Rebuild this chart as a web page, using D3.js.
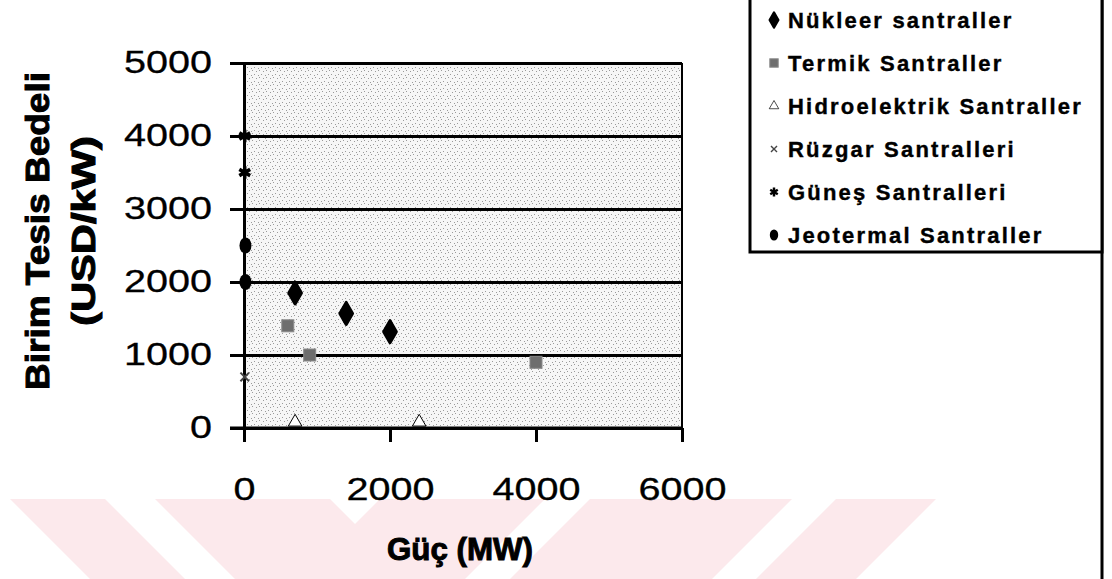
<!DOCTYPE html>
<html>
<head>
<meta charset="utf-8">
<script src="https://cdn.jsdelivr.net/npm/d3@7"></script>
<style>
  body { margin: 0; background: #fff; }
  svg { display: block; }
</style>
</head>
<body>
<svg id="chart" width="1112" height="579"></svg>
<script>
// series values (Güç MW, Birim bedel USD/kW)
var seriesNames = ["Nükleer santraller", "Termik Santraller", "Hidroelektrik Santraller",
                   "Rüzgar Santralleri", "Güneş Santralleri", "Jeotermal Santraller"];
var nukleerGuc = [700, 1400, 2000];
var nukleerBedel = [1850, 1570, 1320];
var termikGuc = [600, 900, 4000];
var termikBedel = [1400, 1000, 900];
var hidroGuc = [700, 2400];
var hidroBedel = [80, 80];
var ruzgarGuc = [10];
var ruzgarBedel = [700];
var gunesGuc = [10, 10];
var gunesBedel = [4000, 3500];
var jeotermalGuc = [20, 20];
var jeotermalBedel = [2500, 2000];
var xTicks = [0, 2000, 4000, 6000];
var yTicks = [0, 1000, 2000, 3000, 4000, 5000];

var svg = d3.select("#chart");

// faint pink watermark chevrons at the bottom
var wm = svg.append("g").attr("fill", "#fce9ec");
[[10, 105], [155, 330]].forEach(function(b){
  wm.append("polygon").attr("points",
    b[0]+",499 "+b[1]+",499 "+(b[1]+80)+",579 "+(b[0]+80)+",579");
});
[[380, 545], [590, 792], [836, 936]].forEach(function(b){
  wm.append("polygon").attr("points",
    b[0]+",499 "+b[1]+",499 "+(b[1]-80)+",579 "+(b[0]-80)+",579");
});

var xScale = d3.scaleLinear().domain([0, 6000]).range([244, 682]);
var yScale = d3.scaleLinear().domain([0, 5000]).range([428, 63]);

// stipple texture of the plot area
var defs = svg.append("defs");
var pat = defs.append("pattern").attr("id", "stip")
  .attr("width", 7).attr("height", 7).attr("patternUnits", "userSpaceOnUse");
pat.append("rect").attr("width", 7).attr("height", 7).attr("fill", "#f6f6f6");
[[0,0],[4,1],[2,4],[6,5]].forEach(function(p){
  pat.append("rect").attr("x", p[0]).attr("y", p[1]).attr("width", 1).attr("height", 1)
     .attr("fill", "#9a9a9a");
});

svg.append("rect")
   .attr("x", xScale(0)).attr("y", yScale(5000))
   .attr("width", xScale(6000) - xScale(0))
   .attr("height", yScale(0) - yScale(5000))
   .attr("fill", "url(#stip)");

// horizontal grid
var grid = svg.append("g")
  .attr("transform", "translate(" + xScale(0) + ",0)")
  .call(d3.axisRight(yScale).tickValues(yTicks).tickSize(xScale(6000) - xScale(0)).tickFormat(""));
grid.select(".domain").remove();
grid.selectAll("line").attr("stroke", "#000").attr("stroke-width", 3);

// right border of plot
svg.append("line")
   .attr("x1", xScale(6000)).attr("x2", xScale(6000))
   .attr("y1", yScale(5000)).attr("y2", yScale(0))
   .attr("stroke", "#000").attr("stroke-width", 2);

var yAxis = svg.append("g")
  .attr("transform", "translate(" + xScale(0) + ",0)")
  .call(d3.axisLeft(yScale).tickValues(yTicks).tickFormat(d3.format("d"))
        .tickSize(14).tickPadding(18));
var xAxis = svg.append("g")
  .attr("transform", "translate(0," + yScale(0) + ")")
  .call(d3.axisBottom(xScale).tickValues(xTicks).tickFormat(d3.format("d"))
        .tickSize(14).tickPadding(36));

[yAxis, xAxis].forEach(function(ax){
  ax.select(".domain").attr("stroke", "#000").attr("stroke-width", 3);
  ax.selectAll("line").attr("stroke", "#000").attr("stroke-width", 3);
  ax.selectAll("text")
    .attr("font-family", "Liberation Sans, Arial, sans-serif")
    .attr("font-size", 31)
    .attr("fill", "#000")
    .attr("stroke", "#000").attr("stroke-width", 0.3)
    .attr("textLength", function(d){ return String(d).length * 22; })
    .attr("lengthAdjust", "spacingAndGlyphs");
});
xAxis.select(".domain").attr("d", "M" + (xScale(0) - 14) + ",0H" + xScale(6000));

// markers, k scales the size (legend keys are smaller)
function drawSeries(gx, gy, draw){
  var g = svg.append("g");
  gx.forEach(function(v, i){ draw(g, xScale(v), yScale(gy[i]), 1); });
}
function diamond(g, x, y, k){
  g.append("path").attr("transform", "translate(" + x + "," + y + ") scale(" + k + ")")
   .attr("d", d3.symbol().type(d3.symbolDiamond).size(140)()).attr("fill", "#000")
   .attr("stroke", "#000").attr("stroke-width", 3).attr("stroke-linejoin", "round");
}
function square(g, x, y, k){
  g.append("rect").attr("x", x - 6 * k).attr("y", y - 6 * k)
   .attr("width", 12 * k).attr("height", 12 * k)
   .attr("fill", "#6e6e6e").attr("stroke", "#8a8a8a").attr("stroke-width", 1);
}
function triangle(g, x, y, k){
  g.append("path").attr("transform", "translate(" + x + "," + y + ") scale(" + k + ")")
   .attr("d", d3.symbol().type(d3.symbolTriangle).size(80)())
   .attr("fill", "#fff").attr("stroke", "#000").attr("stroke-width", 1);
}
function cross(g, x, y, k){
  g.append("path").attr("transform", "translate(" + x + "," + y + ") scale(" + k + ")")
   .attr("d", d3.symbol().type(d3.symbolX).size(50)())
   .attr("fill", "none").attr("stroke", "#444").attr("stroke-width", 2);
}
function star(g, x, y, k){
  g.append("path").attr("transform", "translate(" + x + "," + y + ") scale(" + k + ")")
   .attr("d", d3.symbol().type(d3.symbolAsterisk).size(110)())
   .attr("fill", "none").attr("stroke", "#000").attr("stroke-width", 3.5);
}
function dot(g, x, y, k){
  g.append("ellipse").attr("cx", x).attr("cy", y).attr("rx", 6 * k).attr("ry", 8 * k).attr("fill", "#000");
}
var drawers = [diamond, square, triangle, cross, star, dot];

drawSeries(termikGuc, termikBedel, square);
drawSeries(hidroGuc, hidroBedel, triangle);
drawSeries(ruzgarGuc, ruzgarBedel, cross);
drawSeries(gunesGuc, gunesBedel, star);
drawSeries(jeotermalGuc, jeotermalBedel, dot);
drawSeries(nukleerGuc, nukleerBedel, diamond);

// axis titles
svg.append("text")
   .attr("x", 460).attr("y", 560)
   .attr("text-anchor", "middle")
   .attr("font-family", "Liberation Sans, Arial, sans-serif")
   .attr("font-weight", "bold").attr("font-size", 32)
   .attr("stroke", "#000").attr("stroke-width", 1)
   .attr("textLength", 146).attr("lengthAdjust", "spacingAndGlyphs")
   .text("Güç (MW)");

var yt = svg.append("text")
   .attr("transform", "translate(37,231) rotate(-90)")
   .attr("text-anchor", "middle")
   .attr("font-family", "Liberation Sans, Arial, sans-serif")
   .attr("font-weight", "bold").attr("font-size", 33)
   .attr("stroke", "#000").attr("stroke-width", 1);
yt.append("tspan").attr("x", 0).attr("y", 12)
  .attr("textLength", 318).attr("lengthAdjust", "spacingAndGlyphs")
  .text("Birim Tesis Bedeli");
yt.append("tspan").attr("x", 0).attr("y", 58)
  .attr("textLength", 190).attr("lengthAdjust", "spacingAndGlyphs")
  .text("(USD/kW)");

// legend
svg.append("line").attr("x1", 1102).attr("x2", 1102).attr("y1", 0).attr("y2", 579)
   .attr("stroke", "#000").attr("stroke-width", 3);
svg.append("rect").attr("x", 750).attr("y", -3).attr("width", 352).attr("height", 255)
   .attr("fill", "#fff").attr("stroke", "#000").attr("stroke-width", 3);

var legend = svg.append("g");
seriesNames.forEach(function(name, i){
  var cy = 20 + i * 43;
  drawers[i](legend, 774, cy, 0.7);
  legend.append("text")
    .attr("x", 788).attr("y", cy + 8)
    .attr("font-family", "Liberation Sans, Arial, sans-serif")
    .attr("font-weight", "bold").attr("font-size", 22)
    .attr("letter-spacing", 2.2)
    .attr("stroke", "#000").attr("stroke-width", 0.4)
    .text(name);
});
</script>
</body>
</html>
